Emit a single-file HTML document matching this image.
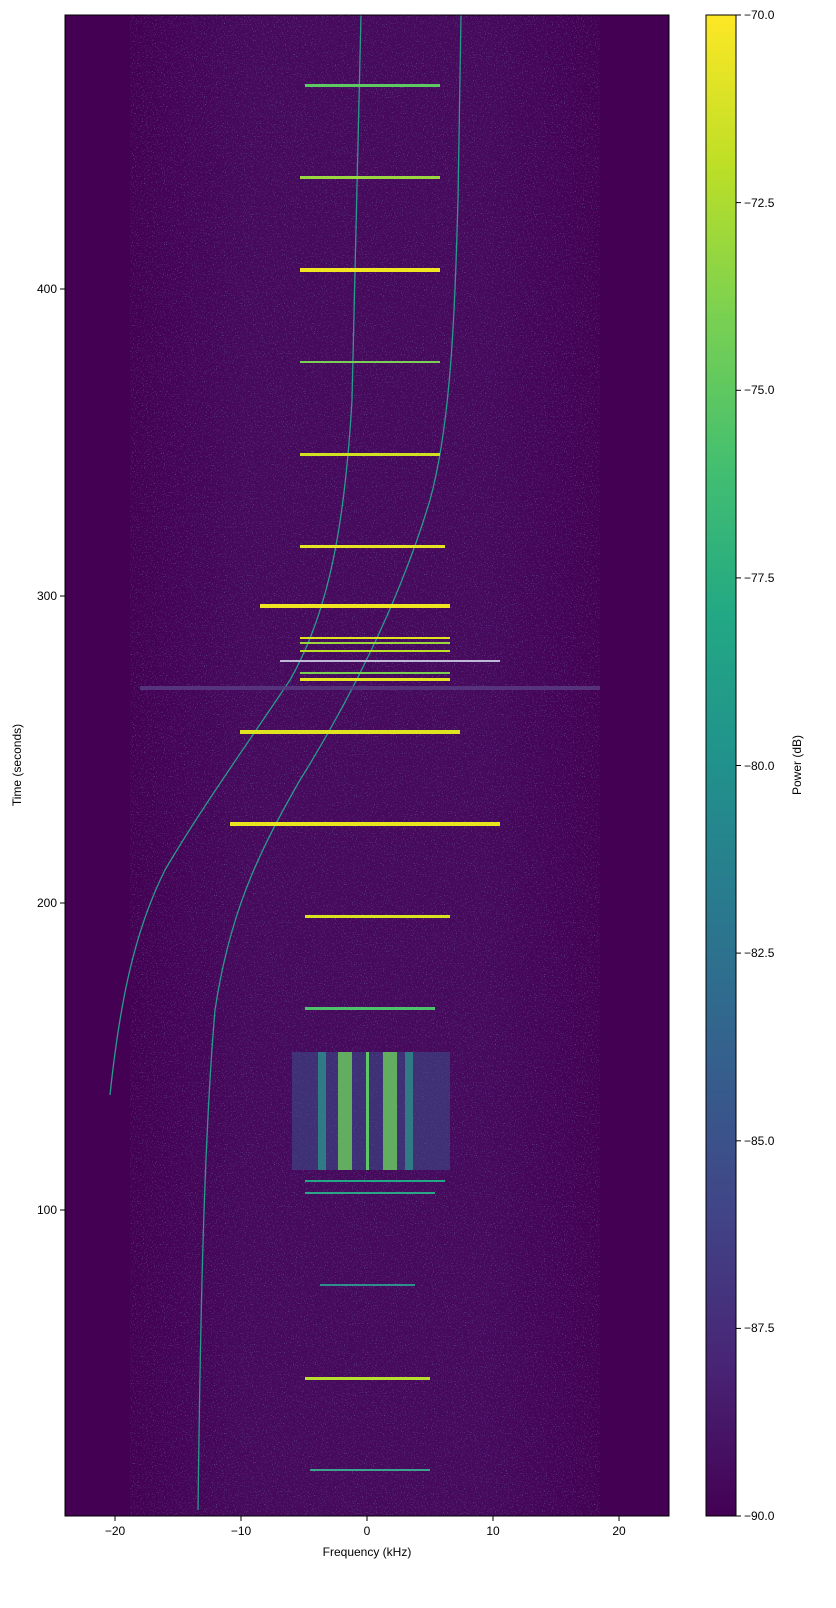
<!DOCTYPE html>
<html><head><meta charset="utf-8"><style>
body{margin:0;background:#fff;}
svg{display:block;font-family:"Liberation Sans",sans-serif;}
</style></head><body>
<svg width="836" height="1608" xmlns="http://www.w3.org/2000/svg">
<defs>
<linearGradient id="vir" x1="0" y1="1" x2="0" y2="0">
<stop offset="0" stop-color="#440154"/><stop offset="0.1" stop-color="#482475"/>
<stop offset="0.2" stop-color="#414487"/><stop offset="0.3" stop-color="#355f8d"/>
<stop offset="0.4" stop-color="#2a788e"/><stop offset="0.5" stop-color="#21918c"/>
<stop offset="0.6" stop-color="#22a884"/><stop offset="0.7" stop-color="#44bf70"/>
<stop offset="0.8" stop-color="#7ad151"/><stop offset="0.9" stop-color="#bddf26"/>
<stop offset="1" stop-color="#fde725"/></linearGradient>
<linearGradient id="bg" x1="0" y1="0" x2="1" y2="0">
<stop offset="0" stop-color="#440154"/><stop offset="0.12" stop-color="#440154"/>
<stop offset="0.3" stop-color="#46095c"/><stop offset="0.7" stop-color="#46095c"/>
<stop offset="0.88" stop-color="#440154"/><stop offset="1" stop-color="#440154"/></linearGradient>
<filter id="nz" x="0" y="0" width="100%" height="100%">
<feTurbulence type="fractalNoise" baseFrequency="0.9" numOctaves="1" seed="3"/>
<feColorMatrix type="matrix" values="0 0 0 0 0.2  0 0 0 0 0.3  0 0 0 0 0.55  0 0 0 6 -3.6"/>
</filter>
</defs>
<rect x="65" y="15" width="604" height="1501" fill="url(#bg)"/>
<rect x="130" y="15" width="470" height="1501" filter="url(#nz)" opacity="0.5"/>
<!-- curves -->
<g fill="none" stroke="#2a9a8c" stroke-width="1.3">
<path d="M110,1095 C120,1000 135,930 165,870 C200,810 250,740 290,680 C330,610 345,520 352,400 C356,250 360,100 361,15"/>
<path d="M198,1510 C200,1350 203,1150 215,1010 C230,910 260,850 300,780 C350,700 400,600 430,500 C452,420 455,300 458,200 L461,15"/>
</g>
<!-- horizontal bands -->
<g>
<rect x="310" y="1469" width="120" height="2" fill="#3aa58a"/>
<rect x="305" y="1377" width="125" height="3" fill="#b8de2e"/>
<rect x="320" y="1284" width="95" height="2" fill="#2f8f8e"/>
<rect x="305" y="1192" width="130" height="2" fill="#2ca687"/>
<rect x="305" y="1180" width="140" height="2" fill="#22a884"/>
<rect x="305" y="1007" width="130" height="3" fill="#4ec36b"/>
<rect x="305" y="915" width="145" height="3" fill="#d9e21f"/>
<rect x="230" y="822" width="270" height="4" fill="#e8e41f"/>
<rect x="240" y="730" width="220" height="4" fill="#e0e320"/>
<rect x="140" y="686" width="460" height="4" fill="#5a3d86" opacity="0.8"/>
<rect x="300" y="678" width="150" height="3" fill="#e5e422"/>
<rect x="300" y="672" width="150" height="2" fill="#7ad151"/>
<rect x="280" y="660" width="220" height="2" fill="#c0b8d8"/>
<rect x="300" y="650" width="150" height="2" fill="#bddf26"/>
<rect x="300" y="642" width="150" height="2" fill="#9ad640"/>
<rect x="300" y="637" width="150" height="2" fill="#e0e320"/>
<rect x="260" y="604" width="190" height="4" fill="#f0e521"/>
<rect x="300" y="545" width="145" height="3" fill="#e5e422"/>
<rect x="300" y="453" width="140" height="3" fill="#d0e120"/>
<rect x="300" y="361" width="140" height="2" fill="#7ad151"/>
<rect x="300" y="268" width="140" height="4" fill="#f0e521"/>
<rect x="300" y="176" width="140" height="3" fill="#9ad640"/>
<rect x="305" y="84" width="135" height="3" fill="#5ec962"/>
</g>
<!-- block -->
<g>
<rect x="292" y="1052" width="158" height="118" fill="#3b4f8a" opacity="0.55"/>
<rect x="338" y="1052" width="14" height="118" fill="#6ccd5a" opacity="0.8"/>
<rect x="383" y="1052" width="14" height="118" fill="#6ccd5a" opacity="0.8"/>
<rect x="318" y="1052" width="8" height="118" fill="#2a9a8c" opacity="0.7"/>
<rect x="405" y="1052" width="8" height="118" fill="#2a9a8c" opacity="0.7"/>
<rect x="366" y="1052" width="3" height="118" fill="#5ec962"/>
</g>
<rect x="65" y="15" width="604" height="1501" fill="none" stroke="#000" stroke-width="1"/>
<!-- x ticks -->
<g stroke="#000">
<line x1="115" y1="1516" x2="115" y2="1521"/><line x1="241" y1="1516" x2="241" y2="1521"/>
<line x1="367" y1="1516" x2="367" y2="1521"/><line x1="493" y1="1516" x2="493" y2="1521"/>
<line x1="619" y1="1516" x2="619" y2="1521"/>
<line x1="60" y1="1210" x2="65" y2="1210"/><line x1="60" y1="903" x2="65" y2="903"/>
<line x1="60" y1="596" x2="65" y2="596"/><line x1="60" y1="289" x2="65" y2="289"/>
</g>
<g font-size="12" text-anchor="middle">
<text x="115" y="1535">−20</text><text x="241" y="1535">−10</text><text x="367" y="1535">0</text>
<text x="493" y="1535">10</text><text x="619" y="1535">20</text>
<text x="367" y="1556">Frequency (kHz)</text>
</g>
<g font-size="12" text-anchor="end">
<text x="57" y="1214">100</text><text x="57" y="907">200</text><text x="57" y="600">300</text><text x="57" y="293">400</text>
</g>
<text x="21" y="765" font-size="12" text-anchor="middle" transform="rotate(-90 21 765)">Time (seconds)</text>
<!-- colorbar -->
<rect x="706" y="15" width="30" height="1501" fill="url(#vir)" stroke="#000" stroke-width="1"/>
<g stroke="#000">
<line x1="736" y1="15" x2="741" y2="15"/><line x1="736" y1="202.6" x2="741" y2="202.6"/>
<line x1="736" y1="390.3" x2="741" y2="390.3"/><line x1="736" y1="577.9" x2="741" y2="577.9"/>
<line x1="736" y1="765.5" x2="741" y2="765.5"/><line x1="736" y1="953.1" x2="741" y2="953.1"/>
<line x1="736" y1="1140.8" x2="741" y2="1140.8"/><line x1="736" y1="1328.4" x2="741" y2="1328.4"/>
<line x1="736" y1="1516" x2="741" y2="1516"/>
</g>
<g font-size="12">
<text x="744" y="19">−70.0</text><text x="744" y="207">−72.5</text><text x="744" y="394">−75.0</text>
<text x="744" y="582">−77.5</text><text x="744" y="770">−80.0</text><text x="744" y="957">−82.5</text>
<text x="744" y="1145">−85.0</text><text x="744" y="1332">−87.5</text><text x="744" y="1520">−90.0</text>
</g>
<text x="801" y="765" font-size="12" text-anchor="middle" transform="rotate(-90 801 765)">Power (dB)</text>
</svg>
</body></html>
